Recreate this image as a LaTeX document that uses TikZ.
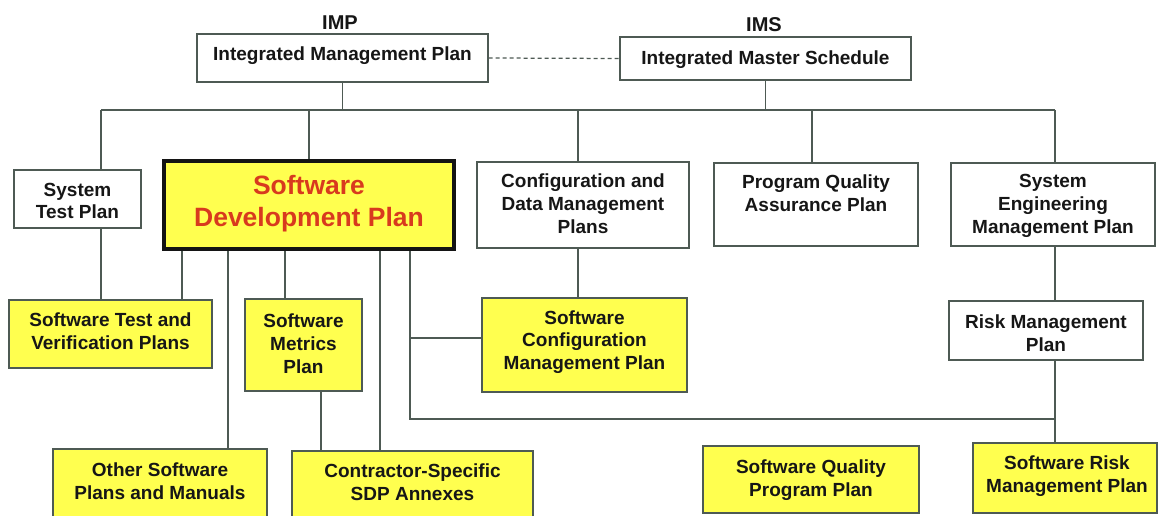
\documentclass[tikz,border=0pt]{standalone}
\usepackage{fontspec}
\setmainfont{Liberation Sans}
\definecolor{ln}{HTML}{4E5A54}
\definecolor{yel}{HTML}{FFFF4F}
\definecolor{sdpred}{HTML}{D83A1E}
\definecolor{txt}{HTML}{161616}
\tikzset{
  wbox/.style={draw=ln, line width=1.25pt, fill=white, rectangle, inner sep=0pt},
  ybox/.style={draw=ln, line width=1.25pt, fill=yel, rectangle, inner sep=0pt},
  sdpbox/.style={draw=black!92, line width=3.6pt, fill=yel, rectangle, inner sep=0pt},
  lbl/.style={font=\bfseries\fontsize{19}{22.8}\selectfont, text=txt, align=center, inner sep=0pt},
  toplbl/.style={font=\bfseries\fontsize{20}{24}\selectfont, text=txt, inner sep=0pt},
  sdplbl/.style={font=\bfseries\fontsize{26.5}{32}\selectfont, text=sdpred, align=center, inner sep=0pt},
  conn/.style={draw=ln, line width=1.25pt},
}
\newcommand\pbox[6]{\node[#6, minimum width={(#4-#2)*1pt}, minimum height={(#5-#3)*1pt}] (#1) at ({(#2+#4)/2},{(#3+#5)/2}) {};}
\begin{document}
\begin{tikzpicture}[x=1pt,y=-1pt]
\clip (0,0) rectangle (1160,516);
\fill[white] (0,0) rectangle (1160,516);

% boxes
\pbox{imp}{197}{34}{488}{82}{wbox}
\pbox{ims}{620}{37}{911}{80}{wbox}
\pbox{stp}{14}{170}{141}{228}{wbox}
\pbox{sdp}{164}{161}{454}{249}{sdpbox}
\pbox{config}{477}{162}{689}{248}{wbox}
\pbox{pqap}{714}{163}{918}{246}{wbox}
\pbox{semp}{951}{163}{1155}{246}{wbox}
\pbox{stvp}{9}{300}{212}{368}{ybox}
\pbox{metrics}{245}{299}{362}{391}{ybox}
\pbox{scmp}{482}{298}{687}{392}{ybox}
\pbox{rmp}{949}{301}{1143}{360}{wbox}
\pbox{other}{53}{449}{267}{526}{ybox}
\pbox{contr}{292}{451}{533}{526}{ybox}
\pbox{sqpp}{703}{446}{919}{513}{ybox}
\pbox{srmp}{973}{443}{1157}{513}{ybox}

% titles
\node[toplbl] (imp-l) at (340,23) {IMP};
\node[toplbl] (ims-l) at (764,25) {IMS};

% texts
\node[lbl] (imp-t) at (342.5,55.5) {Integrated Management Plan};
\node[lbl] (ims-t) at (765.5,59.5) {Integrated Master Schedule};
\node[lbl] (stp-t) at (77.5,201) {System\\Test Plan};
\node[sdplbl] (sdp-t) at (309,204) {Software\\Development Plan};
\node[lbl] (config-t) at (583,204) {Configuration and\\Data Management\\Plans};
\node[lbl] (pqap-t) at (816,193) {Program Quality\\Assurance Plan};
\node[lbl] (semp-t) at (1053,206) {System\\Engineering\\Management Plan};
\node[lbl] (stvp-t) at (110.5,331.5) {Software Test and\\Verification Plans};
\node[lbl] (metrics-t) at (303.5,344) {Software\\Metrics\\Plan};
\node[lbl] (scmp-t) at (584.5,342) {Software\\Configuration\\Management Plan};
\node[lbl] (rmp-t) at (1046,333) {Risk Management\\Plan};
\node[lbl] (other-t) at (160,481) {Other Software\\Plans and Manuals};
\node[lbl] (contr-t) at (412.5,482) {Contractor-Specific\\SDP Annexes};
\node[lbl] (sqpp-t) at (811,480) {Software Quality\\Program Plan};
\node[lbl] (srmp-t) at (1067,476.5) {Software Risk\\Management Plan};

% helper coordinates
\coordinate (bus) at (0,110);
\coordinate (busL) at (101,110);
\coordinate (busR) at (1055,110);
\coordinate (cfgx) at (578,0);
\coordinate (pqx) at (812,0);
\coordinate (xa) at (182,0);
\coordinate (xb) at (228,0);
\coordinate (xc) at (285,0);
\coordinate (xd) at (380,0);
\coordinate (xm) at (321,0);
\coordinate (corner) at (410,419);
\coordinate (join) at (1055,419);
\coordinate (br) at (410,338);

% connectors
\draw[conn, dash pattern=on 4pt off 3pt] (imp.east) -- (ims.west);
\draw[conn] (imp.south) -- (imp.south |- bus);
\draw[conn] (ims.south) -- (ims.south |- bus);
\draw[conn] (busL) -- (busR);
\draw[conn] (busL) -- (busL |- stp.north);
\draw[conn] (sdp.north |- bus) -- (sdp.north);
\draw[conn] (cfgx |- bus) -- (cfgx |- config.north);
\draw[conn] (pqx |- bus) -- (pqx |- pqap.north);
\draw[conn] (busR) -- (busR |- semp.north);

\draw[conn] (busL |- stp.south) -- (busL |- stvp.north);
\draw[conn] (xa |- sdp.south) -- (xa |- stvp.north);
\draw[conn] (xb |- sdp.south) -- (xb |- other.north);
\draw[conn] (xc |- sdp.south) -- (xc |- metrics.north);
\draw[conn] (xd |- sdp.south) -- (xd |- contr.north);
\draw[conn] (corner |- sdp.south) -- (corner) -- (join);
\draw[conn] (br) -- (br -| scmp.west);
\draw[conn] (xm |- metrics.south) -- (xm |- contr.north);
\draw[conn] (cfgx |- config.south) -- (cfgx |- scmp.north);
\draw[conn] (busR |- semp.south) -- (busR |- rmp.north);
\draw[conn] (busR |- rmp.south) -- (busR |- srmp.north);
\end{tikzpicture}
\end{document}
